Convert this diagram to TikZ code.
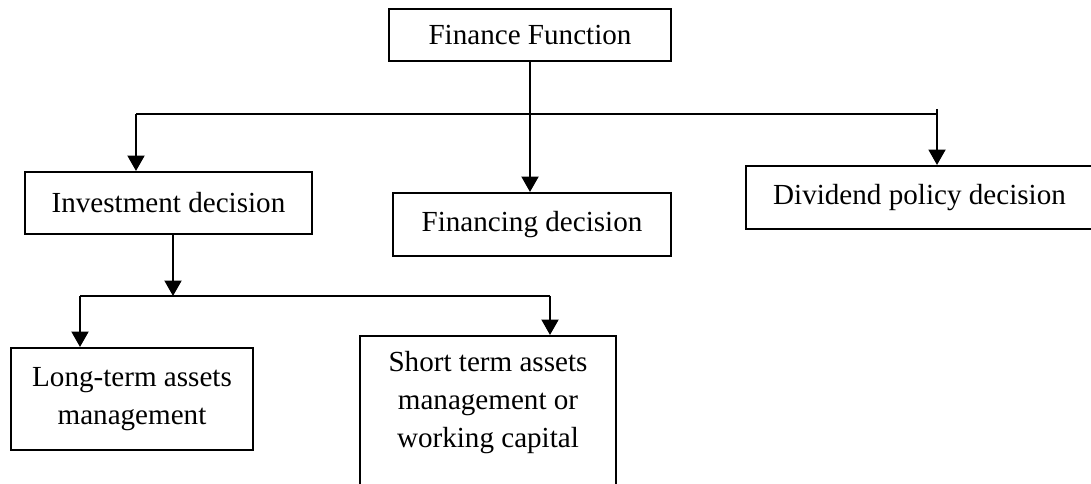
\documentclass[tikz,border=0pt]{standalone}
\usepackage{fontspec}
\setmainfont{Liberation Serif}
\usepackage{tikz}
\usetikzlibrary{arrows.meta}

\begin{document}
\begin{tikzpicture}[x=0.025cm,y=-0.025cm,
  box/.style={draw,line width=1.4pt,rectangle,align=center,inner sep=0pt,
    font=\fontsize{20.7}{27}\selectfont},
  label/.style={align=center,inner sep=0pt,font=\fontsize{20.7}{27}\selectfont},
  conn/.style={line width=1.7pt},
  arr/.style={line width=1.7pt,-{Triangle[width=12pt,length=11pt]}}]

\useasboundingbox (0,0) rectangle (1091,484);

% boxes
\node[box,minimum width=7.05cm,minimum height=1.3cm] (ff) at (530,35) {Finance Function};
\node[box,minimum width=7.175cm,minimum height=1.55cm] (inv) at (168.5,203) {Investment decision};
\node[box,minimum width=6.95cm,minimum height=1.575cm] (fin) at (532,224.5) {Financing decision};
\node[box,minimum width=8.675cm,minimum height=1.575cm] (div) at (919.5,197.5) {Dividend policy decision};
\node[box,minimum width=6.05cm,minimum height=2.55cm] (lt) at (132,399) {Long-term assets\\management};
\node[box,minimum width=6.4cm,minimum height=4.6cm] (st) at (488,428) {};
\node[label] (sttext) at (488,403) {Short term assets\\management or\\working capital};

% first level connectors
\coordinate (busL) at (136,114);
\coordinate (busR) at (937,114);
\coordinate (busRtop) at (937,109);
\draw[conn] (busL) -- (busR);
\draw[arr] (ff.south) -- (ff.south |- fin.north);
\draw[arr] (busL) -- (busL |- inv.north);
\draw[arr] (busRtop) -- (busRtop |- div.north);

% second level connectors
\coordinate (drop) at (173,296);
\coordinate (subL) at (80,296);
\coordinate (subR) at (550,296);
\draw[arr] (drop |- inv.south) -- (drop);
\draw[conn] (subL) -- (subR);
\draw[arr] (subL) -- (subL |- lt.north);
\draw[arr] (subR) -- (subR |- st.north);
\end{tikzpicture}
\end{document}
